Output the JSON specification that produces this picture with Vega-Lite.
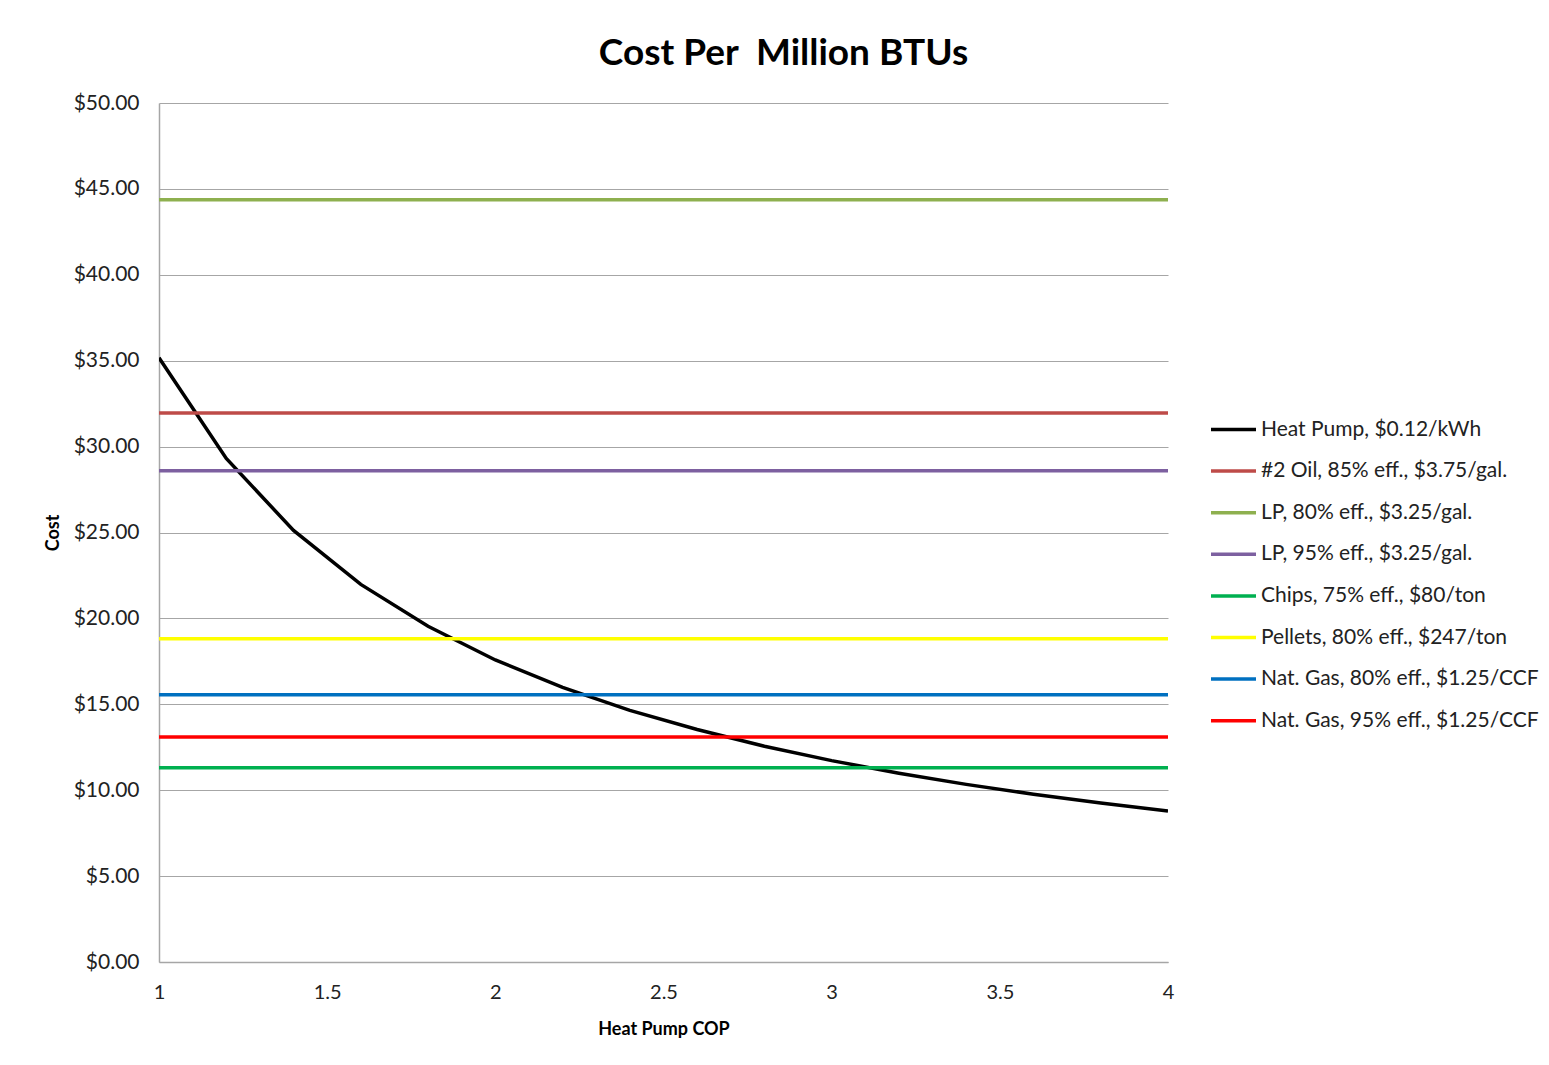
{
  "$schema": "https://vega.github.io/schema/vega-lite/v6.json",
  "autosize": "none",
  "width": 1009,
  "height": 859,
  "padding": {"left": 159, "top": 103, "right": 381, "bottom": 103},
  "background": "white",
  "config": {
    "font": "Lato",
    "view": {"stroke": null}
  },
  "title": {
    "text": "Cost Per\u00a0 Million BTUs",
    "font": "Lato",
    "fontSize": 37,
    "fontWeight": "bold",
    "color": "#000000",
    "anchor": "middle",
    "dx": 120,
    "offset": 19
  },
  "data": {
    "values": [
      {"series": "Heat Pump, $0.12/kWh", "cop": 1.0, "cost": 35.17},
      {"series": "Heat Pump, $0.12/kWh", "cop": 1.2, "cost": 29.31},
      {"series": "Heat Pump, $0.12/kWh", "cop": 1.4, "cost": 25.12},
      {"series": "Heat Pump, $0.12/kWh", "cop": 1.6, "cost": 21.98},
      {"series": "Heat Pump, $0.12/kWh", "cop": 1.8, "cost": 19.54},
      {"series": "Heat Pump, $0.12/kWh", "cop": 2.0, "cost": 17.58},
      {"series": "Heat Pump, $0.12/kWh", "cop": 2.2, "cost": 15.99},
      {"series": "Heat Pump, $0.12/kWh", "cop": 2.4, "cost": 14.65},
      {"series": "Heat Pump, $0.12/kWh", "cop": 2.6, "cost": 13.53},
      {"series": "Heat Pump, $0.12/kWh", "cop": 2.8, "cost": 12.56},
      {"series": "Heat Pump, $0.12/kWh", "cop": 3.0, "cost": 11.72},
      {"series": "Heat Pump, $0.12/kWh", "cop": 3.2, "cost": 10.99},
      {"series": "Heat Pump, $0.12/kWh", "cop": 3.4, "cost": 10.34},
      {"series": "Heat Pump, $0.12/kWh", "cop": 3.6, "cost": 9.77},
      {"series": "Heat Pump, $0.12/kWh", "cop": 3.8, "cost": 9.26},
      {"series": "Heat Pump, $0.12/kWh", "cop": 4.0, "cost": 8.79},
      {"series": "#2 Oil, 85% eff., $3.75/gal.", "cop": 1.0, "cost": 31.96},
      {"series": "#2 Oil, 85% eff., $3.75/gal.", "cop": 4.0, "cost": 31.96},
      {"series": "LP, 80% eff., $3.25/gal.", "cop": 1.0, "cost": 44.37},
      {"series": "LP, 80% eff., $3.25/gal.", "cop": 4.0, "cost": 44.37},
      {"series": "LP, 95% eff., $3.25/gal.", "cop": 1.0, "cost": 28.6},
      {"series": "LP, 95% eff., $3.25/gal.", "cop": 4.0, "cost": 28.6},
      {"series": "Chips, 75% eff., $80/ton", "cop": 1.0, "cost": 11.3},
      {"series": "Chips, 75% eff., $80/ton", "cop": 4.0, "cost": 11.3},
      {"series": "Pellets, 80% eff., $247/ton", "cop": 1.0, "cost": 18.82},
      {"series": "Pellets, 80% eff., $247/ton", "cop": 4.0, "cost": 18.82},
      {"series": "Nat. Gas, 80% eff., $1.25/CCF", "cop": 1.0, "cost": 15.56},
      {"series": "Nat. Gas, 80% eff., $1.25/CCF", "cop": 4.0, "cost": 15.56},
      {"series": "Nat. Gas, 95% eff., $1.25/CCF", "cop": 1.0, "cost": 13.1},
      {"series": "Nat. Gas, 95% eff., $1.25/CCF", "cop": 4.0, "cost": 13.1}
    ]
  },
  "mark": {"type": "line", "strokeWidth": 3.5, "clip": true},
  "encoding": {
    "x": {
      "field": "cop",
      "type": "quantitative",
      "scale": {"domain": [1, 4], "nice": false, "zero": false},
      "axis": {
        "title": "Heat Pump COP",
        "titleFont": "Lato",
        "titleFontSize": 18,
        "titleFontWeight": "bold",
        "titleColor": "#000000",
        "titlePadding": 18,
        "values": [1, 1.5, 2, 2.5, 3, 3.5, 4],
        "labelExpr": "format(datum.value, '~g')",
        "labelFontSize": 20,
        "labelColor": "#222222",
        "labelPadding": 20,
        "ticks": false,
        "grid": false,
        "domainColor": "#A6A6A6",
        "domainWidth": 1.5,
        "labelFlush": false
      }
    },
    "y": {
      "field": "cost",
      "type": "quantitative",
      "scale": {"domain": [0, 50], "nice": false},
      "axis": {
        "title": "Cost",
        "titleFont": "Lato",
        "titleFontSize": 18,
        "titleFontWeight": "bold",
        "titleColor": "#000000",
        "titlePadding": 11,
        "values": [0, 5, 10, 15, 20, 25, 30, 35, 40, 45, 50],
        "format": "$.2f",
        "labelFontSize": 21,
        "labelColor": "#222222",
        "labelPadding": 20,
        "ticks": false,
        "grid": true,
        "gridColor": "#A6A6A6",
        "gridWidth": 1,
        "domainColor": "#A6A6A6",
        "domainWidth": 1.5
      }
    },
    "color": {
      "field": "series",
      "type": "nominal",
      "scale": {
        "domain": [
          "Heat Pump, $0.12/kWh",
          "#2 Oil, 85% eff., $3.75/gal.",
          "LP, 80% eff., $3.25/gal.",
          "LP, 95% eff., $3.25/gal.",
          "Chips, 75% eff., $80/ton",
          "Pellets, 80% eff., $247/ton",
          "Nat. Gas, 80% eff., $1.25/CCF",
          "Nat. Gas, 95% eff., $1.25/CCF"
        ],
        "range": ["#000000", "#BE4B48", "#8EB04F", "#7D60A0", "#00B050", "#FFFF00", "#0070C0", "#FF0000"]
      },
      "legend": {
        "title": null,
        "orient": "none",
        "legendX": 1050,
        "legendY": 302,
        "symbolType": "stroke",
        "symbolSize": 2025,
        "symbolStrokeWidth": 3.5,
        "labelFontSize": 21,
        "labelColor": "#222222",
        "labelOffset": 3,
        "rowPadding": 6.6,
        "labelLimit": 400
      }
    }
  }
}
